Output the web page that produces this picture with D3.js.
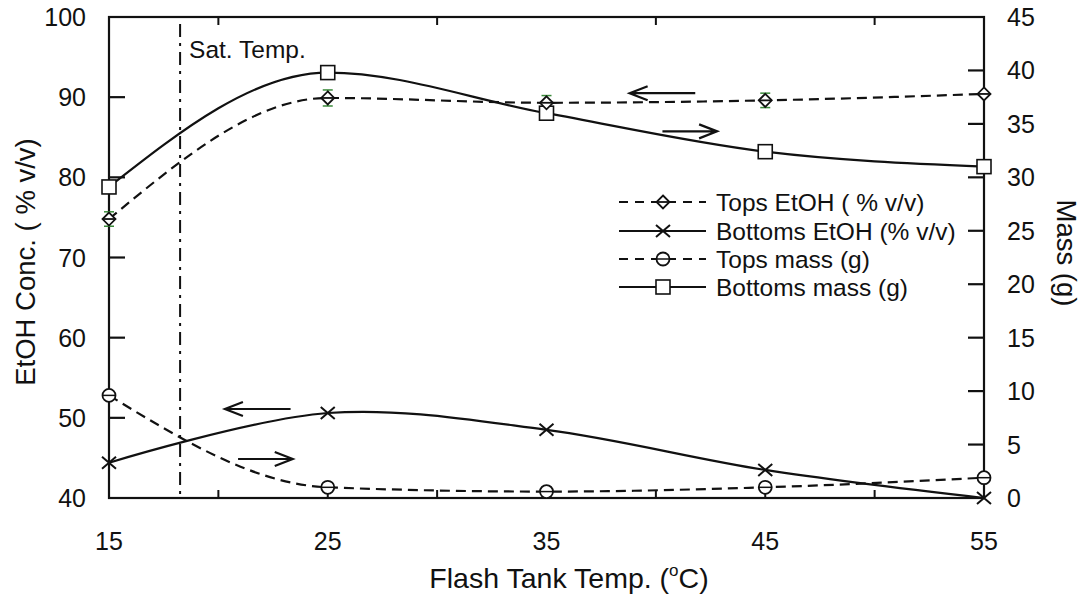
<!DOCTYPE html>
<html>
<head>
<meta charset="utf-8">
<script src="https://cdn.jsdelivr.net/npm/d3@7"></script>
<style>
  body { margin: 0; background: #fff; }
  text { font-family: Arial, "Liberation Sans", sans-serif; fill: #111; }
</style>
</head>
<body>
<svg id="chart" width="1088" height="601"></svg>
<script>
// ---------------- data ----------------
const temps = [15, 25, 35, 45, 55];
const topsEtOH = [74.8, 89.9, 89.3, 89.6, 90.4];
const topsEtOHErr = [0.9, 1.0, 0.9, 0.9, 0];
const bottomsEtOH = [44.4, 50.6, 48.5, 43.5, 40.0];
const topsMass = [9.6, 1.0, 0.6, 1.0, 1.9];
const bottomsMass = [29.1, 39.8, 36.0, 32.4, 31.0];

const xTicks = [15, 25, 35, 45, 55];
const xMinorTicks = [20, 30, 40, 50];
const yLeftTicks = [40, 50, 60, 70, 80, 90, 100];
const yRightTicks = [0, 5, 10, 15, 20, 25, 30, 35, 40, 45];
const satTemp = 18.25;

const legendLabels = ["Tops EtOH ( % v/v)", "Bottoms EtOH (% v/v)", "Tops mass (g)", "Bottoms mass (g)"];

// ---------------- layout ----------------
const L = 109, R = 984, T = 17, B = 498;
const svg = d3.select("#chart");
const x = d3.scaleLinear().domain([15, 55]).range([L, R]);
const yL = d3.scaleLinear().domain([40, 100]).range([B, T]);
const yR = d3.scaleLinear().domain([0, 45]).range([B, T]);

const black = "#111";
const green = "#3a8a3a";
const tickFont = 25;

// frame
svg.append("rect").attr("x", L).attr("y", T).attr("width", R - L).attr("height", B - T)
  .attr("fill", "none").attr("stroke", black).attr("stroke-width", 2.2);

// left axis ticks (inward) and labels
const tickLen = 16;
yLeftTicks.forEach(v => {
  if (v > 40 && v < 100) {
    svg.append("line").attr("x1", L).attr("x2", L + tickLen).attr("y1", yL(v)).attr("y2", yL(v))
      .attr("stroke", black).attr("stroke-width", 2.2);
  }
  svg.append("text").attr("x", 86).attr("y", yL(v)).attr("dy", "0.36em")
    .attr("text-anchor", "end").attr("font-size", tickFont).text(v);
});
// right axis
yRightTicks.forEach(v => {
  if (v > 0 && v < 45) {
    svg.append("line").attr("x1", R).attr("x2", R - tickLen).attr("y1", yR(v)).attr("y2", yR(v))
      .attr("stroke", black).attr("stroke-width", 2.2);
  }
  svg.append("text").attr("x", 1007).attr("y", yR(v)).attr("dy", "0.36em")
    .attr("text-anchor", "start").attr("font-size", tickFont).text(v);
});
// x ticks
xMinorTicks.forEach(v => {
  [[B, B - 8], [T, T + 8]].forEach(([a, b]) => {
    svg.append("line").attr("x1", x(v)).attr("x2", x(v)).attr("y1", a).attr("y2", b)
      .attr("stroke", black).attr("stroke-width", 2);
  });
});
xTicks.forEach(v => {
  if (v > 15 && v < 55) {
    svg.append("line").attr("x1", x(v)).attr("x2", x(v)).attr("y1", B).attr("y2", B - 7)
      .attr("stroke", black).attr("stroke-width", 2);
  }
  svg.append("text").attr("x", x(v)).attr("y", 550).attr("text-anchor", "middle")
    .attr("font-size", tickFont).text(v);
});

// axis titles
const xt = svg.append("text").attr("x", 569).attr("y", 588).attr("text-anchor", "middle").attr("font-size", 28.5);
xt.append("tspan").text("Flash Tank Temp. (");
xt.append("tspan").attr("font-size", 17).attr("dy", -12).text("o");
xt.append("tspan").attr("dy", 12).text("C)");

svg.append("text").attr("transform", "translate(35,262) rotate(-90)").attr("text-anchor", "middle")
  .attr("font-size", 27.5).text("EtOH Conc. ( % v/v)");
svg.append("text").attr("transform", "translate(1057,253) rotate(90)").attr("text-anchor", "middle")
  .attr("font-size", 27.5).text("Mass (g)");

// saturation temperature line
svg.append("line").attr("x1", x(satTemp)).attr("x2", x(satTemp)).attr("y1", T + 7).attr("y2", B)
  .attr("stroke", black).attr("stroke-width", 2).attr("stroke-dasharray", "13,6,3,6");
svg.append("text").attr("x", x(satTemp) + 9).attr("y", 58).attr("font-size", 24.5).text("Sat. Temp.");

// ---------------- lines ----------------
const dash = "10,6";
function series(vals, yScale, curve, dashed) {
  const pts = temps.map((t, i) => [t, vals[i]]);
  const line = d3.line().x(d => x(d[0])).y(d => yScale(d[1])).curve(curve);
  svg.append("path").attr("d", line(pts)).attr("fill", "none").attr("stroke", black)
    .attr("stroke-width", 2.2).attr("stroke-dasharray", dashed ? dash : null);
  return pts;
}
const pTE = series(topsEtOH, yL, d3.curveMonotoneX, true);
const pBE = series(bottomsEtOH, yL, d3.curveCatmullRom, false);
const pTM = series(topsMass, yR, d3.curveMonotoneX, true);
const pBM = series(bottomsMass, yR, d3.curveMonotoneX, false);

// ---------------- markers ----------------
function marker(g, type, cx, cy) {
  const s = black;
  if (type === "diamond") {
    g.append("path").attr("d", `M${cx},${cy - 6.5}L${cx + 6.5},${cy}L${cx},${cy + 6.5}L${cx - 6.5},${cy}Z`)
      .attr("fill", "#fff").attr("stroke", s).attr("stroke-width", 1.8);
    g.append("line").attr("x1", cx - 6.5).attr("x2", cx + 6.5).attr("y1", cy).attr("y2", cy)
      .attr("stroke", s).attr("stroke-width", 1.8);
  } else if (type === "x") {
    g.append("path").attr("d", `M${cx - 7},${cy - 6}L${cx + 7},${cy + 6}M${cx - 7},${cy + 6}L${cx + 7},${cy - 6}`)
      .attr("stroke", s).attr("stroke-width", 2);
  } else if (type === "circle") {
    g.append("circle").attr("cx", cx).attr("cy", cy).attr("r", 6.5)
      .attr("fill", "#fff").attr("stroke", s).attr("stroke-width", 1.8);
    g.append("line").attr("x1", cx - 6.5).attr("x2", cx + 6.5).attr("y1", cy).attr("y2", cy)
      .attr("stroke", s).attr("stroke-width", 1.5);
  } else if (type === "square") {
    g.append("rect").attr("x", cx - 7).attr("y", cy - 7).attr("width", 14).attr("height", 14)
      .attr("fill", "#fff").attr("stroke", s).attr("stroke-width", 1.6);
  }
}
const mg = svg.append("g");
// error bars for tops EtOH
temps.forEach((t, i) => {
  const e = topsEtOHErr[i];
  if (!e) return;
  const cx = x(t), y1 = yL(topsEtOH[i] + e), y2 = yL(topsEtOH[i] - e);
  mg.append("line").attr("x1", cx).attr("x2", cx).attr("y1", y1).attr("y2", y2).attr("stroke", green).attr("stroke-width", 1.5);
  [y1, y2].forEach(yy => mg.append("line").attr("x1", cx - 5).attr("x2", cx + 5).attr("y1", yy).attr("y2", yy)
    .attr("stroke", green).attr("stroke-width", 1.5));
});
pBM.forEach(d => marker(mg, "square", x(d[0]), yR(d[1])));
pTE.forEach(d => marker(mg, "diamond", x(d[0]), yL(d[1])));
pBE.forEach(d => marker(mg, "x", x(d[0]), yL(d[1])));
pTM.forEach(d => marker(mg, "circle", x(d[0]), yR(d[1])));

// ---------------- arrows ----------------
const arrows = [
  { from: 41.8, to: 38.8, v: 90.5, scale: yL },
  { from: 40.3, to: 42.8, v: 34.3, scale: yR },
  { from: 23.3, to: 20.3, v: 51.1, scale: yL },
  { from: 20.9, to: 23.4, v: 3.65, scale: yR }
];
arrows.forEach(a => {
  const x1 = x(a.from), x2 = x(a.to), yy = a.scale(a.v);
  const dir = x2 > x1 ? -1 : 1;
  svg.append("path")
    .attr("d", `M${x1},${yy}L${x2},${yy}M${x2 + dir * 18},${yy - 7}L${x2},${yy}L${x2 + dir * 18},${yy + 7}`)
    .attr("fill", "none").attr("stroke", black).attr("stroke-width", 2.2);
});

// ---------------- legend ----------------
const legTypes = [["diamond", true], ["x", false], ["circle", true], ["square", false]];
const legY = [202, 231, 259, 287];
legTypes.forEach(([type, dashed], i) => {
  const yy = legY[i];
  svg.append("line").attr("x1", 619).attr("x2", 706).attr("y1", yy).attr("y2", yy)
    .attr("stroke", black).attr("stroke-width", 2).attr("stroke-dasharray", dashed ? "9,7" : null);
  marker(svg, type, 663, yy);
  svg.append("text").attr("x", 716).attr("y", yy).attr("dy", "0.36em").attr("font-size", 24.5).text(legendLabels[i]);
});
</script>
</body>
</html>
